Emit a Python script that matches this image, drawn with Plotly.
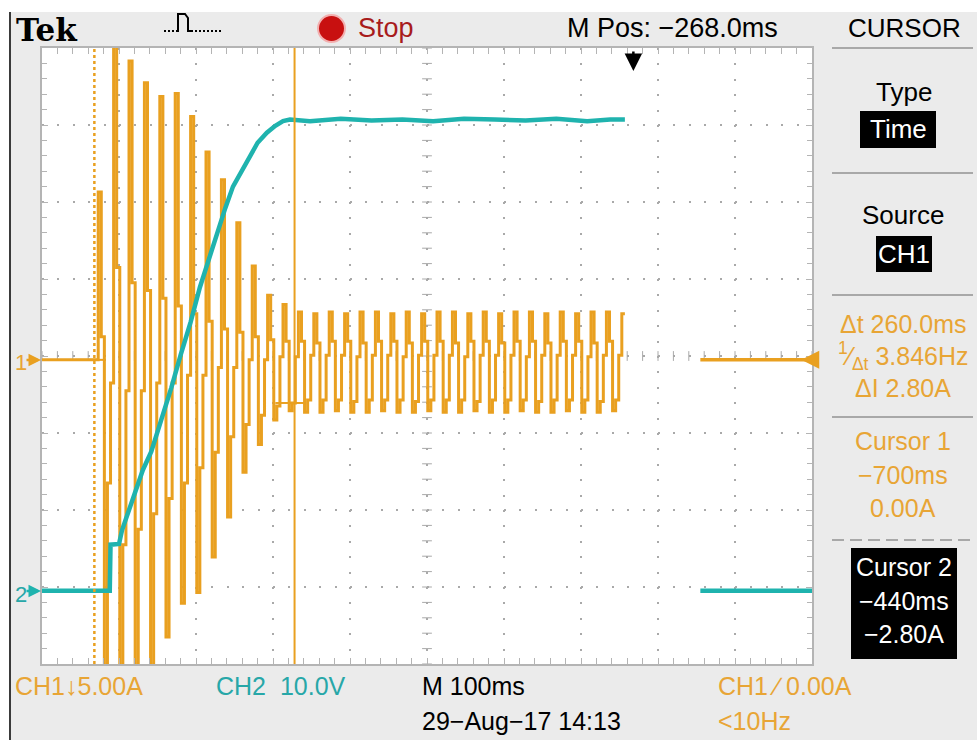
import plotly.graph_objects as go

W, H = 977, 740

# ---------------- data ----------------
time_per_div_ms = 100
m_pos_ms = -268
ch1_per_div = 5.0       # A / div
ch2_per_div = 10.0      # V / div
ch1_zero_div = -0.05    # CH1 ground marker relative to screen centre (div)
ch2_zero_div = -3.05    # CH2 ground marker relative to screen centre (div)

# CH1 current (A): flat before the burst
ch1_pre_t = [-768, -695]
ch1_pre_a = [0.0, 0.0]
# CH1 display columns (4 ms each), grouped per 20 ms mains cycle
ch1_col_start_ms = -695
ch1_col_ms = 4
ch1_cycles = [
    [10.9, 1.5, -22.0, -8.0, -1.5],
    [22.0, 6.0, -22.0, -12.0, -2.0],
    [19.4, 5.0, -22.0, -11.0, -2.0],
    [18.0, 4.5, -22.0, -10.0, -1.5],
    [17.1, 4.0, -18.0, -9.0, -1.5],
    [17.3, 3.5, -15.8, -8.0, -1.0],
    [15.8, 3.0, -15.1, -7.0, -1.0],
    [13.5, 2.5, -12.8, -6.0, -0.5],
    [11.7, 2.0, -10.2, -5.0, -0.5],
    [8.9, 1.8, -7.3, -4.2, 0.0],
    [6.1, 1.5, -5.5, -3.6, 0.0],
    [4.2, 1.3, -3.9, -3.0, 0.2],
    [3.6, 1.2, -3.3, -2.8, 0.2],
    [3.1, 1.2, -3.4, -2.6, 0.3],
    [3.0, 1.1, -3.4, -2.6, 0.3],
    [3.1, 1.2, -3.3, -2.6, 0.3],
    [3.0, 1.2, -3.4, -2.7, 0.2],
    [3.1, 1.1, -3.4, -2.6, 0.3],
    [3.1, 1.2, -3.3, -2.6, 0.3],
    [3.0, 1.2, -3.4, -2.6, 0.2],
    [3.1, 1.1, -3.4, -2.7, 0.3],
    [3.0, 1.2, -3.3, -2.6, 0.3],
    [3.1, 1.2, -3.4, -2.6, 0.3],
    [3.1, 1.1, -3.4, -2.6, 0.2],
    [3.0, 1.2, -3.3, -2.7, 0.3],
    [3.1, 1.2, -3.4, -2.6, 0.3],
    [3.0, 1.1, -3.4, -2.6, 0.3],
    [3.1, 1.2, -3.3, -2.6, 0.2],
    [3.1, 1.2, -3.4, -2.7, 0.3],
    [3.0, 1.1, -3.4, -2.6, 0.3],
    [3.1, 1.2, -3.3, -2.6, 0.3],
    [3.0, 1.2, -3.4, -2.6, 0.2],
    [3.1, 1.1, -3.4, -2.7, 0.3],
    [3.1, 1.2, -3.3, -2.6, 0.3],
]
ch1_last = [3.0]

# CH2 voltage (V)
ch2_t = [-768, -680, -679, -668, -664, -655, -645, -637, -626, -613, -600,
         -588, -575, -563, -550, -541, -530, -520, -508, -498, -488, -476,
         -465, -455, -446, -420, -380, -340, -300, -260, -220, -180, -140,
         -100, -60, -30, -11]
ch2_v = [0.0, 0.0, 6.0, 6.1, 7.9, 10.5, 13.1, 15.7, 18.1, 22.2, 26.4,
         30.6, 34.9, 39.4, 43.6, 46.5, 49.7, 52.5, 54.7, 56.4, 58.2, 59.5,
         60.4, 61.0, 61.2, 61.0, 61.3, 61.1, 61.2, 61.0, 61.3, 61.2, 61.1,
         61.3, 61.0, 61.2, 61.2]

# after the acquisition gap
tail_t = [87, 232]
ch1_tail_a = [0.0, 0.0]
ch2_tail_v = [0.0, 0.0]

cursor_t = [-700, -440]
cursor_a = [0.00, -2.80]
trigger_t = 0.0
trigger_level_a = 0.0

# ---------------- styling ----------------
ORANGE = "#E9A020"
ORANGE_TXT = "#E8A535"
TEAL = "#1FB3AE"
TEAL_TXT = "#27A7A8"
GRID = "#a9a9a9"
BORDER = "#b4b4b4"
PANEL = "#ebebeb"
FONT = "Liberation Sans, Arial, sans-serif"

X0, X1, Y0, Y1 = 42, 812, 48, 664           # graticule in pixels
xdom = [X0 / W, X1 / W]
ydom = [1 - Y1 / H, 1 - Y0 / H]


def px(x):
    return x / W


def py(y):
    return 1 - y / H


x_lo = m_pos_ms - 5 * time_per_div_ms
x_hi = m_pos_ms + 5 * time_per_div_ms
c_a = -ch1_zero_div * ch1_per_div
y_lo, y_hi = c_a - 4 * ch1_per_div, c_a + 4 * ch1_per_div
c_v = -ch2_zero_div * ch2_per_div
v_lo, v_hi = c_v - 4 * ch2_per_div, c_v + 4 * ch2_per_div

minor_px = (X1 - X0) / 50.0
griddash = f"2px,{minor_px - 2:.2f}px"

# ---------------- build traces ----------------
ch1_cols = [v for cyc in ch1_cycles for v in cyc] + ch1_last
ch1_t = ch1_pre_t + [ch1_col_start_ms + i * ch1_col_ms for i in range(len(ch1_cols) + 1)]
ch1_a = ch1_pre_a + ch1_cols + [ch1_cols[-1]]

minor_x = [x_lo + i * time_per_div_ms / 5 for i in range(51)]
minor_y = [y_lo + i * ch1_per_div / 5 for i in range(41)]

fig = go.Figure()
fig.add_trace(go.Scatter(x=minor_x, y=[c_a] * len(minor_x), mode="markers",
                         marker=dict(symbol="line-ns", size=7, line=dict(width=1, color=GRID)),
                         hoverinfo="skip", showlegend=False))
fig.add_trace(go.Scatter(x=[m_pos_ms] * len(minor_y), y=minor_y, mode="markers",
                         marker=dict(symbol="line-ew", size=7, line=dict(width=1, color=GRID)),
                         hoverinfo="skip", showlegend=False))
fig.add_trace(go.Scatter(x=ch1_t, y=ch1_a, mode="lines", line=dict(color=ORANGE, width=3, shape="hv"),
                         showlegend=False))
fig.add_trace(go.Scatter(x=tail_t, y=ch1_tail_a, mode="lines", line=dict(color=ORANGE, width=3.5),
                         showlegend=False))
fig.add_trace(go.Scatter(x=ch2_t, y=ch2_v, yaxis="y2", mode="lines", line=dict(color=TEAL, width=4.5),
                         showlegend=False))
fig.add_trace(go.Scatter(x=tail_t, y=ch2_tail_v, yaxis="y2", mode="lines", line=dict(color=TEAL, width=4.5),
                         showlegend=False))

shapes = []
# instrument panel background and graticule area
shapes.append(dict(type="rect", xref="paper", yref="paper", x0=px(10), x1=1, y0=0, y1=py(12),
                   fillcolor=PANEL, line=dict(width=0), layer="below"))
shapes.append(dict(type="rect", xref="paper", yref="paper", x0=xdom[0], x1=xdom[1], y0=ydom[0], y1=ydom[1],
                   fillcolor="white", line=dict(width=0), layer="below"))
shapes.append(dict(type="line", xref="paper", yref="paper", x0=px(10), x1=px(10), y0=0, y1=py(12),
                   line=dict(color="#3a3a3a", width=2)))
# right panel separators
for yy in (48, 173, 295, 417):
    shapes.append(dict(type="line", xref="paper", yref="paper", x0=px(832), x1=px(973), y0=py(yy), y1=py(yy),
                       line=dict(color="#a8a8a8", width=2)))
shapes.append(dict(type="line", xref="paper", yref="paper", x0=px(832), x1=px(973), y0=py(540), y1=py(540),
                   line=dict(color="#a8a8a8", width=2, dash="12px,6px")))
# inverted boxes
for (bx0, by0, bx1, by1) in ((860, 111, 936, 148), (876, 236, 932, 272), (851, 548, 957, 659)):
    shapes.append(dict(type="rect", xref="paper", yref="paper", x0=px(bx0), x1=px(bx1), y0=py(by1), y1=py(by0),
                       fillcolor="black", line=dict(width=0)))
# red stop lamp
shapes.append(dict(type="circle", xref="paper", yref="paper", x0=px(318), x1=px(345), y0=py(42), y1=py(15),
                   fillcolor="#c81010", line=dict(color="#f2b0b0", width=2)))
# acquisition icon
shapes.append(dict(type="path", xref="paper", yref="paper",
                   path=f"M{px(176)},{py(31)} L{px(178)},{py(31)} L{px(178)},{py(14)} L{px(185)},{py(14)} "
                        f"L{px(188)},{py(18)} L{px(188)},{py(31)} L{px(191)},{py(31)}",
                   line=dict(color="black", width=2)))
for (a, b) in ((164, 176), (191, 222)):
    shapes.append(dict(type="line", xref="paper", yref="paper", x0=px(a), x1=px(b), y0=py(31), y1=py(31),
                       line=dict(color="black", width=2, dash="2px,2px")))
# cursors
shapes.append(dict(type="line", xref="x", yref="paper", x0=cursor_t[0], x1=cursor_t[0], y0=ydom[0], y1=ydom[1],
                   line=dict(color=ORANGE, width=2.5, dash="3px,3px")))
shapes.append(dict(type="line", xref="x", yref="paper", x0=cursor_t[1], x1=cursor_t[1], y0=ydom[0], y1=ydom[1],
                   line=dict(color=ORANGE, width=2)))
for ct, ca in zip(cursor_t, cursor_a):
    shapes.append(dict(type="line", xref="x", yref="y", x0=ct - 25, x1=ct + 15, y0=ca, y1=ca,
                       line=dict(color=ORANGE, width=2)))

ann = []


def txt(x, y, s, color="black", size=25, anchor="left", family=FONT, bold=False):
    if bold:
        s = f"<b>{s}</b>"
    ann.append(dict(x=px(x), y=py(y), xref="paper", yref="paper", text=s, showarrow=False,
                    xanchor=anchor, yanchor="middle", font=dict(family=family, size=size, color=color)))


txt(14, 30, "Tek", size=31, family="DejaVu Serif, Liberation Serif, serif", bold=True)
txt(356, 28, "Stop", color="#a81c1c", size=27)
txt(565, 28, "M Pos: \u2212268.0ms", size=27)
txt(904, 28, "CURSOR", size=26, anchor="center")
txt(904, 92, "Type", size=26, anchor="center")
txt(898, 129, "Time", color="white", size=26, anchor="center")
txt(903, 215, "Source", size=26, anchor="center")
txt(904, 254, "CH1", color="white", size=26, anchor="center")
txt(903, 324, "\u0394t 260.0ms", color=ORANGE_TXT, size=25, anchor="center")
txt(903, 356, "<sup>1</sup>\u2044<sub>\u0394t</sub> 3.846Hz", color=ORANGE_TXT, size=25, anchor="center")
txt(903, 388, "\u0394I 2.80A", color=ORANGE_TXT, size=25, anchor="center")
txt(903, 441, "Cursor 1", color=ORANGE_TXT, size=25, anchor="center")
txt(903, 475, "\u2212700ms", color=ORANGE_TXT, size=25, anchor="center")
txt(903, 508, "0.00A", color=ORANGE_TXT, size=25, anchor="center")
txt(904, 567, "Cursor 2", color="white", size=25, anchor="center")
txt(904, 601, "\u2212440ms", color="white", size=25, anchor="center")
txt(904, 634, "\u22122.80A", color="white", size=25, anchor="center")
txt(13, 686, "CH1\u21935.00A", color=ORANGE_TXT, size=25)
txt(214, 686, "CH2&nbsp;&nbsp;10.0V", color=TEAL_TXT, size=25)
txt(420, 686, "M 100ms", size=25)
txt(716, 686, "CH1 \u2215 0.00A", color=ORANGE_TXT, size=25)
txt(420, 721, "29\u2212Aug\u221217 14:13", size=25)
txt(716, 721, "<10Hz", color=ORANGE_TXT, size=25)
txt(13, 362, "1", color=ORANGE_TXT, size=22)
txt(13, 594, "2", color=TEAL_TXT, size=22)

# ground markers and trigger markers
ann.append(dict(x=px(41), y=py(360), xref="paper", yref="paper", ax=-16, ay=0, text="", showarrow=True,
                arrowhead=2, arrowsize=1, arrowwidth=2.5, arrowcolor=ORANGE))
ann.append(dict(x=px(41), y=py(591), xref="paper", yref="paper", ax=-16, ay=0, text="", showarrow=True,
                arrowhead=2, arrowsize=1, arrowwidth=2.5, arrowcolor=TEAL))
ann.append(dict(x=x_hi - 14, y=trigger_level_a, xref="x", yref="y", ax=10, ay=0, text="", showarrow=True,
                arrowhead=2, arrowsize=1.2, arrowwidth=3, arrowcolor=ORANGE))
ann.append(dict(x=trigger_t, y=py(71), xref="x", yref="paper", ax=0, ay=-21, text="", showarrow=True,
                arrowhead=2, arrowsize=1.4, arrowwidth=2.5, arrowcolor="black"))

axis_common = dict(showticklabels=False, zeroline=False, showgrid=True, gridcolor=GRID, gridwidth=2,
                   griddash=griddash, ticks="inside", ticklen=6, tickcolor=BORDER, tickwidth=1,
                   showline=True, linecolor=BORDER, linewidth=2, mirror="allticks", fixedrange=True)

fig.update_layout(
    width=W, height=H, margin=dict(l=0, r=0, t=0, b=0),
    paper_bgcolor="white", plot_bgcolor="white", showlegend=False,
    xaxis=dict(domain=xdom, range=[x_lo, x_hi], tick0=m_pos_ms, dtick=time_per_div_ms,
               minor=dict(ticks="inside", ticklen=5, tick0=m_pos_ms, dtick=time_per_div_ms / 5,
                          tickcolor=BORDER, showgrid=False), **axis_common),
    yaxis=dict(domain=ydom, range=[y_lo, y_hi], tick0=c_a, dtick=ch1_per_div,
               minor=dict(ticks="inside", ticklen=5, tick0=c_a, dtick=ch1_per_div / 5,
                          tickcolor=BORDER, showgrid=False), **axis_common),
    yaxis2=dict(domain=ydom, range=[v_lo, v_hi], overlaying="y", visible=False, fixedrange=True),
    shapes=shapes, annotations=ann,
)

fig.write_html("out.html", config={"displayModeBar": False},
               post_script="document.body.style.margin='0';document.body.style.overflow='hidden';")
